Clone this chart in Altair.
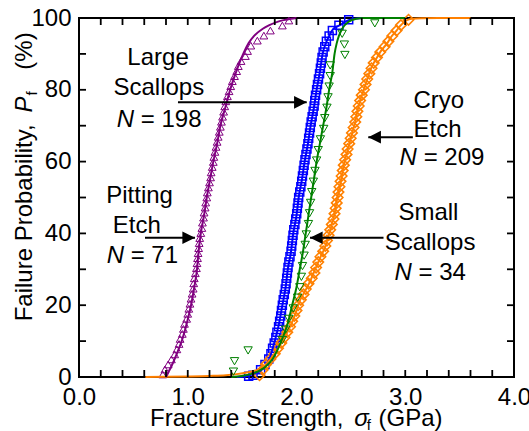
import altair as alt
import pandas as pd

FONT = "Liberation Sans"
PURPLE = "#800080"
BLUE = "#0000FF"
GREEN = "#008000"
ORANGE = "#FF8000"

# ---------------- data ----------------
# Pitting Etch (purple open triangles), x = strength GPa, p = failure prob %
pit_x = [0.77, 0.79, 0.82, 0.85, 0.88, 0.90, 0.92, 0.93, 0.95, 0.96, 0.97, 0.99, 1.00, 1.01,
         1.02, 1.03, 1.04, 1.05, 1.055, 1.06, 1.07, 1.08, 1.085, 1.09, 1.095, 1.10, 1.105, 1.11,
         1.12, 1.13, 1.135, 1.145, 1.15, 1.16, 1.165, 1.175, 1.18, 1.19, 1.20, 1.21, 1.215, 1.225,
         1.235, 1.24, 1.25, 1.26, 1.27, 1.28, 1.29, 1.30, 1.31, 1.32, 1.33, 1.34, 1.35, 1.365,
         1.38, 1.395, 1.41, 1.43, 1.45, 1.465, 1.49, 1.53, 1.55, 1.58, 1.64, 1.70, 1.76, 1.87, 1.93]
pit_p = [0.7, 2.1, 3.5, 4.9, 6.3, 7.7, 9.2, 10.6, 12.0, 13.4, 14.8, 16.2, 17.6, 19.0,
         20.4, 21.8, 23.2, 24.6, 26.1, 27.5, 28.9, 30.3, 31.7, 33.1, 34.5, 35.9, 37.3, 38.7,
         40.1, 41.5, 43.0, 44.4, 45.8, 47.2, 48.6, 50.0, 51.4, 52.8, 54.2, 55.6, 57.0, 58.5,
         59.9, 61.3, 62.7, 64.1, 65.5, 66.9, 68.3, 69.7, 71.1, 72.5, 73.9, 75.4, 76.8, 78.2,
         79.6, 81.0, 82.4, 83.8, 85.2, 86.6, 88.0, 89.4, 90.8, 92.3, 93.7, 95.1, 96.5, 97.9, 99.3]

# Large Scallops (blue open squares)
lrg_x = [1.56, 1.60, 1.67, 1.71, 1.745, 1.765, 1.78, 1.795, 1.81, 1.82, 1.835, 1.845, 1.855, 1.862,
         1.87, 1.878, 1.888, 1.897, 1.904, 1.91, 1.916, 1.922, 1.93, 1.94, 1.95, 1.956, 1.962,
         1.968, 1.975, 1.985, 1.993, 2.002, 2.008, 2.014, 2.02, 2.03, 2.04, 2.048, 2.055, 2.063,
         2.07, 2.078, 2.087, 2.096, 2.105, 2.112, 2.12, 2.127, 2.135, 2.144, 2.153, 2.162, 2.168,
         2.175, 2.185, 2.193, 2.202, 2.212, 2.22, 2.228, 2.235, 2.245, 2.26, 2.275, 2.30, 2.33,
         2.39, 2.48]
lrg_p = [0.2, 0.5, 2.0, 3.5, 5.0, 6.5, 8.0, 9.5, 11.0, 12.5, 14.0, 15.5, 17.0, 18.5,
         20.0, 21.5, 23.0, 24.5, 26.0, 27.5, 29.0, 30.5, 32.0, 33.5, 35.0, 36.5, 38.0,
         39.5, 41.0, 42.5, 44.0, 45.5, 47.0, 48.5, 50.0, 51.5, 53.0, 54.5, 56.0, 57.5,
         59.0, 60.5, 62.0, 63.5, 65.0, 66.5, 68.0, 69.5, 71.0, 72.5, 74.0, 75.5, 77.0,
         78.5, 80.0, 81.5, 83.0, 84.5, 86.0, 87.5, 89.0, 90.5, 92.0, 93.5, 95.0, 96.5,
         98.0, 99.5]

# Small Scallops (green open inverted triangles)
sml_x = [1.42, 1.43, 1.555, 1.87, 1.90, 1.93, 1.97, 2.01, 2.03, 2.045, 2.055, 2.07, 2.08, 2.09,
         2.11, 2.12, 2.13, 2.14, 2.155, 2.17, 2.185, 2.20, 2.22, 2.25, 2.26, 2.28, 2.29, 2.30,
         2.31, 2.31, 2.445, 2.44, 2.42, 2.72]
sml_p = [1.5, 4.4, 7.4, 10.3, 13.2, 16.2, 19.1, 22.1, 25.0, 27.9, 30.9, 33.8, 36.8, 39.7,
         42.6, 45.6, 48.5, 51.5, 54.4, 57.4, 60.3, 63.2, 66.2, 69.1, 72.1, 75.0, 77.9, 80.9,
         83.8, 86.8, 89.7, 92.6, 95.6, 98.5]

# Cryo Etch (orange open diamonds)
cry_x = [1.66, 1.69, 1.72, 1.76, 1.80, 1.83, 1.86, 1.89, 1.915, 1.94, 1.96, 1.98, 2.00, 2.015,
         2.04, 2.065, 2.085, 2.11, 2.14, 2.165, 2.18, 2.20, 2.22, 2.245, 2.265, 2.28, 2.295,
         2.31, 2.325, 2.34, 2.35, 2.36, 2.37, 2.378, 2.386, 2.395, 2.405, 2.415, 2.425, 2.435,
         2.447, 2.46, 2.47, 2.485, 2.498, 2.51, 2.525, 2.54, 2.55, 2.56, 2.572, 2.585, 2.60,
         2.62, 2.635, 2.65, 2.67, 2.69, 2.71, 2.74, 2.77, 2.81, 2.845, 2.88, 2.92, 2.96, 3.03]
cry_p = [0.5, 2.0, 3.5, 5.0, 6.5, 8.0, 9.5, 11.0, 12.5, 14.0, 15.5, 17.0, 18.5, 20.0,
         21.5, 23.0, 24.5, 26.0, 27.5, 29.0, 30.5, 32.0, 33.5, 35.0, 36.5, 38.0, 39.5,
         41.0, 42.5, 44.0, 45.5, 47.0, 48.5, 50.0, 51.5, 53.0, 54.5, 56.0, 57.5, 59.0,
         60.5, 62.0, 63.5, 65.0, 66.5, 68.0, 69.5, 71.0, 72.5, 74.0, 75.5, 77.0, 78.5,
         80.0, 81.5, 83.0, 84.5, 86.0, 87.5, 89.0, 90.5, 92.0, 93.5, 95.0, 96.5, 98.0, 99.5]

# Fitted curves
pit_fit_x = [0.80, 0.82, 0.85, 0.90, 0.95, 1.00, 1.03, 1.06, 1.085, 1.10, 1.12, 1.15, 1.175, 1.205,
             1.235, 1.27, 1.30, 1.345, 1.39, 1.445, 1.51, 1.56, 1.61, 1.69, 1.75, 1.83, 1.95, 2.00]
pit_fit_p = [0, 1.2, 3, 6.5, 10.5, 16, 20, 25, 30, 35, 40, 45, 50, 55,
             60, 65, 70, 75, 80, 85, 90, 93, 95, 97, 98, 99, 99.8, 100]
lrg_fit_x = [1.45, 1.55, 1.62, 1.68, 1.75, 1.80, 1.84, 1.87, 1.90, 1.92, 1.95, 1.97, 2.00, 2.02,
             2.05, 2.075, 2.105, 2.13, 2.16, 2.185, 2.215, 2.24, 2.27, 2.30, 2.34, 2.40, 2.45,
             2.52, 2.60]
lrg_fit_p = [0, 0.3, 1, 2, 5, 10, 15, 20, 25, 30, 35, 40, 45, 50,
             55, 60, 65, 70, 75, 80, 85, 90, 93, 95, 97, 98, 99, 99.7, 100]
sml_fit_x = [1.40, 1.50, 1.60, 1.72, 1.78, 1.86, 1.92, 1.96, 2.00, 2.03, 2.06, 2.085, 2.11, 2.135,
             2.16, 2.185, 2.215, 2.245, 2.275, 2.30, 2.33, 2.35, 2.37, 2.39, 2.42, 2.48, 2.55,
             2.62, 3.00]
sml_fit_p = [0, 0.3, 1, 3, 5, 10, 15, 20, 25, 30, 35, 40, 45, 50,
             55, 60, 65, 70, 75, 80, 85, 90, 93, 95, 97, 99, 99.8,
             100, 100]
cry_fit_x = [0.61, 0.80, 1.00, 1.20, 1.35, 1.45, 1.55, 1.64, 1.70, 1.76, 1.83, 1.89, 1.94, 1.99,
             2.02, 2.08, 2.13, 2.18, 2.22, 2.26, 2.29, 2.32, 2.35, 2.37, 2.39, 2.41, 2.43, 2.46,
             2.485, 2.51, 2.54, 2.56, 2.585, 2.62, 2.65, 2.69, 2.74, 2.78, 2.83, 2.87, 2.92, 2.96,
             3.01, 3.06, 3.15, 3.30, 3.60]
cry_fit_p = [0, 0.05, 0.15, 0.3, 0.5, 0.8, 1.3, 2, 3, 5, 8, 11, 14, 17.6,
             20.5, 24, 27, 30.6, 33.4, 36, 39, 42, 45.5, 49, 52, 55, 58.5, 62,
             65, 67.8, 71, 74, 77, 80, 83, 86.3, 89, 91, 92.8, 94.7, 96.5, 98,
             99.3, 99.8, 99.95, 100, 100]

# axis ticks
x_ticks = [0.0, 0.2, 0.4, 0.6, 0.8, 1.0, 1.2, 1.4, 1.6, 1.8, 2.0, 2.2, 2.4, 2.6, 2.8, 3.0,
           3.2, 3.4, 3.6, 3.8, 4.0]
x_labels = [0, 1, 2, 3, 4]
y_ticks = [0, 10, 20, 30, 40, 50, 60, 70, 80, 90, 100]
y_labels = [0, 20, 40, 60, 80, 100]

# annotations (data coordinates)
plain_txt = ["Large", "Scallops", "Pitting", "Etch", "Cryo", "Etch", "Small", "Scallops"]
plain_x = [0.727, 0.734, 0.557, 0.531, 3.309, 3.297, 3.213, 3.228]
plain_y = [86.99, 78.69, 48.5, 40.0, 74.9, 66.74, 43.79, 35.26]
n_x = [0.507, 0.414, 3.107, 3.060]          # right edge of italic N
eq_x = [0.568, 0.475, 3.169, 3.122]         # left edge of "= value"
n_y = [69.53, 31.78, 58.94, 27.08]
eq_txt = ["= 198", "= 71", "= 209", "= 34"]

arrow_from = [0.91, 0.607, 3.07, 2.80]
arrow_to = [2.094, 1.067, 2.66, 2.124]
arrow_y = [76.5, 38.8, 66.8, 38.8]
arrow_dir = ["right", "right", "left", "left"]

# ---------------- chart ----------------
xs = alt.Scale(domain=[0, 4], nice=False, zero=False)
ys = alt.Scale(domain=[0, 100], nice=False, zero=False)
x_axis = alt.Axis(values=x_labels, format=".1f", ticks=False, domain=False, grid=False,
                  labelFont=FONT, labelFontSize=24, labelColor="black", labelPadding=8,
                  labelFlush=False, labelOverlap=False, title=None)
y_axis = alt.Axis(values=y_labels, format="d", ticks=False, domain=False, grid=False,
                  labelFont=FONT, labelFontSize=24, labelColor="black", labelPadding=8,
                  labelOverlap=False, title=None)


def X(field="x"):
    return alt.X(f"{field}:Q", scale=xs, axis=x_axis)


def Y(field="y"):
    return alt.Y(f"{field}:Q", scale=ys, axis=y_axis)


def pts(xv, pv, shape, color, size, sw=1.0):
    df = pd.DataFrame({"x": xv, "y": pv})
    return alt.Chart(df).mark_point(shape=shape, filled=False, size=size, strokeWidth=sw,
                                    color=color, opacity=1).encode(x=X(), y=Y())


def fit(xv, pv, color):
    df = pd.DataFrame({"x": xv, "y": pv})
    return alt.Chart(df).mark_line(color=color, strokeWidth=2, interpolate="monotone").encode(
        x=X(), y=Y())


layers = []
layers.append(pts(lrg_x, lrg_p, "square", BLUE, 64, 1.5))
layers.append(pts(cry_x, cry_p, "diamond", ORANGE, 110, 1.6))
layers.append(pts(pit_x, pit_p, "triangle-up", PURPLE, 60))
layers.append(fit(lrg_fit_x, lrg_fit_p, BLUE))
layers.append(fit(cry_fit_x, cry_fit_p, ORANGE))
layers.append(fit(pit_fit_x, pit_fit_p, PURPLE))
layers.append(fit(sml_fit_x, sml_fit_p, GREEN))
layers.append(pts(sml_x, sml_p, "triangle-down", GREEN, 70))

# ticks (inward)
xt = pd.DataFrame({"x": x_ticks})
yt = pd.DataFrame({"y": y_ticks})
tick_style = dict(color="black", strokeWidth=1.8)
layers.append(alt.Chart(xt).mark_rule(**tick_style).encode(x=X(), y=alt.value(359), y2=alt.value(352)))
layers.append(alt.Chart(xt).mark_rule(**tick_style).encode(x=X(), y=alt.value(0), y2=alt.value(7)))
layers.append(alt.Chart(yt).mark_rule(**tick_style).encode(y=Y(), x=alt.value(0), x2=alt.value(7)))
layers.append(alt.Chart(yt).mark_rule(**tick_style).encode(y=Y(), x=alt.value(435), x2=alt.value(428)))

# arrows
adf = pd.DataFrame({"x": arrow_from, "x2": arrow_to, "y": arrow_y, "d": arrow_dir})
layers.append(alt.Chart(adf).mark_rule(color="black", strokeWidth=2).encode(
    x=X(), x2="x2:Q", y=Y()))
head_r = adf[adf.d == "right"]
head_l = adf[adf.d == "left"]
layers.append(alt.Chart(head_r).mark_point(shape="M0,0L-2,-1L-2,1Z", filled=True, size=160,
                                           color="black", opacity=1).encode(x=X("x2"), y=Y()))
layers.append(alt.Chart(head_l).mark_point(shape="M0,0L2,-1L2,1Z", filled=True, size=160,
                                           color="black", opacity=1).encode(x=X("x2"), y=Y()))

# annotation text
tdf = pd.DataFrame({"x": plain_x, "y": plain_y, "t": plain_txt})
layers.append(alt.Chart(tdf).mark_text(font=FONT, fontSize=24, align="center", baseline="alphabetic",
                                       color="black").encode(x=X(), y=Y(), text="t:N"))
ndf = pd.DataFrame({"x": n_x, "y": n_y, "t": ["N"] * 4})
layers.append(alt.Chart(ndf).mark_text(font=FONT, fontSize=24, fontStyle="italic", align="right",
                                       baseline="alphabetic", color="black").encode(
    x=X(), y=Y(), text="t:N"))
edf = pd.DataFrame({"x": eq_x, "y": n_y, "t": eq_txt})
layers.append(alt.Chart(edf).mark_text(font=FONT, fontSize=24, align="left", baseline="alphabetic",
                                       color="black").encode(x=X(), y=Y(), text="t:N"))

# axis titles built from text pieces (for italics and subscripts)
xt_norm = pd.DataFrame({"x": [0.653, 2.755], "y": [-13.6, -13.6],
                        "t": ["Fracture Strength,", "(GPa)"]})
xt_ital = pd.DataFrame({"x": [2.53], "y": [-13.6], "t": ["σ"]})
xt_sub = pd.DataFrame({"x": [2.645], "y": [-14.9], "t": ["f"]})
layers.append(alt.Chart(xt_norm).mark_text(font=FONT, fontSize=24, align="left", baseline="alphabetic",
                                           color="black").encode(x=X(), y=Y(), text="t:N"))
layers.append(alt.Chart(xt_ital).mark_text(font=FONT, fontSize=24, fontStyle="italic", align="left",
                                           baseline="alphabetic", color="black").encode(
    x=X(), y=Y(), text="t:N"))
layers.append(alt.Chart(xt_sub).mark_text(font=FONT, fontSize=15, align="left", baseline="alphabetic",
                                          color="black").encode(x=X(), y=Y(), text="t:N"))

yt_norm = pd.DataFrame({"x": [-0.432, -0.432], "y": [15.5, 85.6],
                        "t": ["Failure Probability,", "(%)"]})
yt_ital = pd.DataFrame({"x": [-0.432], "y": [73.7], "t": ["P"]})
yt_sub = pd.DataFrame({"x": [-0.386], "y": [78.4], "t": ["f"]})
layers.append(alt.Chart(yt_norm).mark_text(font=FONT, fontSize=24, align="left", baseline="alphabetic",
                                           angle=270, color="black").encode(x=X(), y=Y(), text="t:N"))
layers.append(alt.Chart(yt_ital).mark_text(font=FONT, fontSize=24, fontStyle="italic", align="left",
                                           baseline="alphabetic", angle=270, color="black").encode(
    x=X(), y=Y(), text="t:N"))
layers.append(alt.Chart(yt_sub).mark_text(font=FONT, fontSize=15, align="left", baseline="alphabetic",
                                          angle=270, color="black").encode(x=X(), y=Y(), text="t:N"))

chart = alt.layer(*layers).properties(
    width=435, height=359,
    padding={"left": 79, "top": 18, "right": 15, "bottom": 54},
    autosize=alt.AutoSizeParams(type="none"),
    background="white",
).configure_view(stroke="black", strokeWidth=2)

chart.save("out.html", embed_options={"renderer": "svg", "actions": False})
